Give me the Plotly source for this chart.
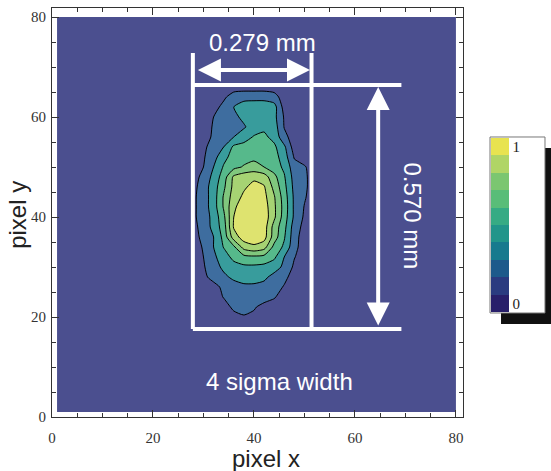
import numpy as np
import plotly.graph_objects as go

# ---- data ----
x_cols = [26, 28, 30, 32, 34, 36, 38, 40, 42, 44, 46, 48, 50, 52]
y_rows = [18, 20, 22, 24, 26, 28, 30, 32, 34, 36, 38, 40, 42, 44, 46, 48,
          50, 52, 54, 56, 58, 60, 62, 64, 66]
z_rows = [
    [0, 0, 0, 0, 0, 0, 0, 0, 0, 0, 0, 0, 0, 0],                       # 18
    [0, 0, 0, 0, 0, 0.2, 0.4, 0.3, 0, 0, 0, 0, 0, 0],                 # 20
    [0, 0, 0, 0, 0.1, 0.7, 0.9, 0.6, 0.2, 0, 0, 0, 0, 0],             # 22
    [0, 0, 0, 0, 0.55, 0.9, 1.0, 1.0, 0.9, 0.6, 0, 0, 0, 0],          # 24
    [0, 0, 0, 0.2, 0.7, 1.1, 1.3, 1.3, 1.2, 1.0, 0.4, 0, 0, 0],       # 26
    [0, 0, 0.3, 0.8, 1.3, 1.7, 1.9, 1.9, 1.7, 1.2, 0.8, 0, 0, 0],     # 28
    [0, 0, 0.4, 1.1, 1.7, 2.1, 2.3, 2.3, 2.2, 1.9, 1.3, 0.3, 0, 0],   # 30
    [0, 0, 0.5, 1.3, 2.0, 2.8, 3.2, 3.3, 3.2, 2.7, 1.5, 0.55, 0, 0],  # 32
    [0, 0, 0.6, 1.5, 2.55, 3.3, 4.9, 5.3, 4.9, 3.2, 2.3, 0.8, 0, 0],  # 34
    [0, 0.1, 0.8, 1.5, 2.8, 5.0, 6.0, 6.1, 5.9, 4.0, 2.6, 0.9, 0, 0], # 36
    [0, 0.2, 0.9, 1.8, 3.0, 5.6, 6.2, 6.3, 6.0, 4.1, 2.8, 1.0, 0.2, 0],   # 38
    [0, 0.3, 1.0, 1.8, 3.25, 5.5, 6.2, 6.3, 6.1, 4.7, 3.0, 1.3, 0.35, 0], # 40
    [0, 0.3, 1.0, 2.0, 3.6, 5.3, 6.1, 6.2, 6.0, 4.7, 3.1, 1.3, 0.45, 0],  # 42
    [0, 0.3, 1.0, 2.0, 3.6, 5.0, 5.7, 6.0, 5.8, 4.6, 3.0, 1.3, 0.6, 0],   # 44
    [0, 0.2, 1.0, 2.0, 3.3, 4.8, 5.35, 5.8, 5.6, 4.2, 2.8, 1.2, 0.7, 0],  # 46
    [0, 0.1, 0.8, 1.8, 3.0, 4.7, 5.1, 5.3, 5.0, 3.8, 2.6, 1.1, 0.7, 0],   # 48
    [0, 0, 0.5, 1.5, 2.6, 3.2, 3.6, 3.8, 3.5, 3.0, 2.3, 0.9, 0.6, 0],     # 50
    [0, 0, 0.4, 1.1, 2.2, 2.9, 3.1, 3.3, 3.3, 2.9, 2.0, 0.4, 0, 0],       # 52
    [0, 0, 0.3, 0.9, 1.5, 2.7, 2.9, 3.1, 3.1, 2.7, 1.7, 0, 0, 0],         # 54
    [0, 0, 0.1, 0.65, 1.1, 1.5, 2.0, 2.6, 2.7, 2.2, 0.8, 0, 0, 0],        # 56
    [0, 0, 0, 0.6, 0.85, 1.1, 1.4, 1.9, 2.3, 2.0, 0.45, 0, 0, 0],         # 58
    [0, 0, 0, 0.5, 0.9, 1.3, 1.7, 2.0, 2.0, 1.8, 0.4, 0, 0, 0],           # 60
    [0, 0, 0, 0.1, 0.8, 1.5, 1.9, 2.0, 2.0, 1.9, 0.1, 0, 0, 0],           # 62
    [0, 0, 0, 0, 0.3, 1.0, 1.2, 1.2, 1.2, 0.9, 0, 0, 0, 0],               # 64
    [0, 0, 0, 0, 0, 0, 0, 0, 0, 0, 0, 0, 0, 0],                           # 66
]
image_edges = [1, 80]          # detector image spans pixels 1..80
x_ticks = [0, 20, 40, 60, 80]
y_ticks = [0, 20, 40, 60, 80]
cbar_ticks = ["0", "1"]
width_label = "0.279 mm"
height_label = "0.570 mm"
note_label = "4 sigma width"

level_colors = ["#4b4f8f", "#3e6d9f", "#389c9c", "#56b98b", "#80c77d", "#a6d373", "#dee36f"]
cbar_colors = ["#281f6a", "#2a3b80", "#1d5a8b", "#177a8e", "#21958a",
               "#36ab84", "#59bd78", "#7bc670", "#b0d566", "#e8e350"]

# pad the grid with zero background out to the image edges
x_all = [image_edges[0], x_cols[0] - 2] + x_cols + [x_cols[-1] + 2, image_edges[1]]
y_all = [image_edges[0], y_rows[0] - 2] + y_rows + [y_rows[-1] + 2, image_edges[1]]
z = np.zeros((len(y_all), len(x_all)))
z[2:-2, 2:-2] = np.array(z_rows)

fig = go.Figure()

fig.add_trace(go.Contour(
    x=x_all, y=y_all, z=z,
    contours=dict(start=0.5, end=5.5, size=1, coloring="fill"),
    colorscale=[[i / 6, c] for i, c in enumerate(level_colors)],
    line=dict(color="black", width=1, smoothing=0.6),
    showscale=False, hoverinfo="skip",
))

cb_scale = []
for i, c in enumerate(cbar_colors):
    cb_scale.append([i / 10, c])
    cb_scale.append([(i + 1) / 10, c])

fig.add_trace(go.Scatter(
    x=[None], y=[None], mode="markers", showlegend=False, hoverinfo="skip",
    marker=dict(color=[0.5], cmin=0, cmax=1, colorscale=cb_scale, showscale=True,
                colorbar=dict(x=1.068, xanchor="left", y=0.469, yanchor="middle",
                              len=174, lenmode="pixels", thickness=18,
                              thicknessmode="pixels", xpad=0, ypad=0,
                              outlinewidth=0, tickvals=[0.05, 0.95],
                              ticktext=cbar_ticks, ticks="",
                              tickfont=dict(family="Liberation Serif", size=15,
                                            color="#222"))),
))

axis_common = dict(
    showgrid=False, zeroline=False, showline=True, linecolor="#333", linewidth=1,
    mirror="ticks", ticks="inside", ticklen=7, tickcolor="#333", tickwidth=1,
    minor=dict(dtick=5, ticks="inside", ticklen=4, tickcolor="#333"),
    tickfont=dict(family="Liberation Serif", size=15, color="#333"),
)
fig.update_xaxes(range=[0, 81.4], tickvals=x_ticks, ticklabelstandoff=7, **axis_common)
fig.update_yaxes(range=[0, 81.8], tickvals=y_ticks, ticklabelstandoff=2, **axis_common)

white = "white"
shapes = [
    dict(type="line", x0=27.9, x1=27.9, y0=17.6, y1=72.8),
    dict(type="line", x0=51.4, x1=51.4, y0=17.6, y1=72.8),
    dict(type="line", x0=27.9, x1=69.2, y0=66.4, y1=66.4),
    dict(type="line", x0=27.9, x1=69.2, y0=17.6, y1=17.6),
]
for s in shapes:
    s.update(xref="x", yref="y", line=dict(color=white, width=4))
# colorbar frame with drop shadow
shapes.append(dict(type="rect", xref="paper", yref="paper", x0=1.0925, x1=1.2263,
                   y0=0.2274, y1=0.6577, fillcolor="#111", line=dict(width=0)))
shapes.append(dict(type="rect", xref="paper", yref="paper", x0=1.0657, x1=1.1995,
                   y0=0.2543, y1=0.6846, fillcolor="white",
                   line=dict(color="#777", width=1)))
fig.update_layout(shapes=shapes)

label_font = dict(family="Liberation Sans", size=24, color="white")
ann = [
    dict(x=51.1, y=69.4, ax=28.6, ay=69.4, xref="x", yref="y", axref="x", ayref="y",
         text="", showarrow=True, arrowside="end+start", arrowhead=2, startarrowhead=2,
         arrowsize=1.15, startarrowsize=1.15, arrowwidth=4, arrowcolor=white),
    dict(x=64.6, y=66.0, ax=64.6, ay=18.0, xref="x", yref="y", axref="x", ayref="y",
         text="", showarrow=True, arrowside="end+start", arrowhead=2, startarrowhead=2,
         arrowsize=1.15, startarrowsize=1.15, arrowwidth=4, arrowcolor=white),
    dict(x=41.6, y=74.9, xref="x", yref="y", text=width_label, showarrow=False, font=label_font),
    dict(x=71.4, y=40.2, xref="x", yref="y", text=height_label, showarrow=False,
         textangle=90, font=label_font),
    dict(x=45.0, y=7.2, xref="x", yref="y", text=note_label, showarrow=False, font=label_font),
    dict(x=0.521, y=-0.102, xref="paper", yref="paper", text="pixel x", showarrow=False,
         yanchor="middle", font=dict(family="Liberation Sans", size=24, color="#222")),
    dict(x=-0.083, y=0.494, xref="paper", yref="paper", text="pixel y", showarrow=False,
         textangle=-90, xanchor="center", font=dict(family="Liberation Sans", size=24, color="#222")),
]
fig.update_layout(annotations=ann)

fig.update_layout(
    width=551, height=471,
    margin=dict(l=52, r=88, t=8, b=54),
    paper_bgcolor="white", plot_bgcolor="white",
    showlegend=False,
)

fig.write_html("out.html", config={"displayModeBar": False},
               post_script="document.body.style.margin='0';document.body.style.padding='0';")
